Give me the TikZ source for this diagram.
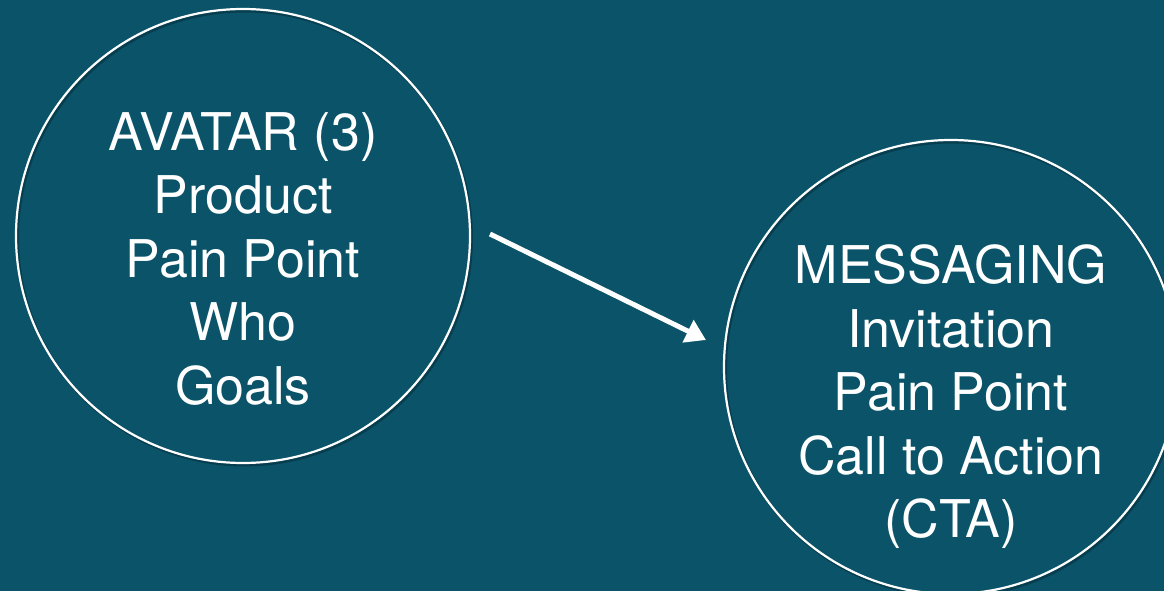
\documentclass[tikz,border=0pt]{standalone}
\usepackage{fontspec}
\setmainfont{TeX Gyre Heros}
\usetikzlibrary{arrows.meta}
\definecolor{bgteal}{HTML}{0A5369}
\definecolor{shadowc}{HTML}{06303E}
\begin{document}
\begin{tikzpicture}[x=1bp,y=-1bp,
  ring/.style={circle, draw=white, line width=2.2bp, minimum size=454bp, inner sep=0pt},
  ringshadow/.style={circle, draw=shadowc, opacity=0.6, line width=3bp, minimum size=454bp, inner sep=0pt},
  label/.style={text=white, align=center, inner sep=0pt, font=\fontsize{52bp}{63.5bp}\selectfont},
  flow/.style={draw=white, line width=5bp, -{Triangle[length=20bp,width=24bp]}}]
\fill[bgteal] (0,0) rectangle (1164,591);
\useasboundingbox (0,0) rectangle (1164,591);
\clip (0,0) rectangle (1164,591);
\node[ringshadow] at (244.5,238) {};
\node[ringshadow] at (952.5,369) {};
\node[ring] (avatar) at (243,236) {};
\node[ring] (messaging) at (951,367) {};
\node[label] (avatartext) at (243,259) {AVATAR (3)\\Product\\Pain Point\\Who\\Goals};
\node[label] (messagingtext) at (951,397) {MESSAGING\\Invitation\\Pain Point\\Call to Action\\(CTA)};
\coordinate (arrowstart) at (490,234);
\coordinate (arrowend) at (706,340);
\draw[flow] (arrowstart) -- (arrowend);
\end{tikzpicture}
\end{document}
